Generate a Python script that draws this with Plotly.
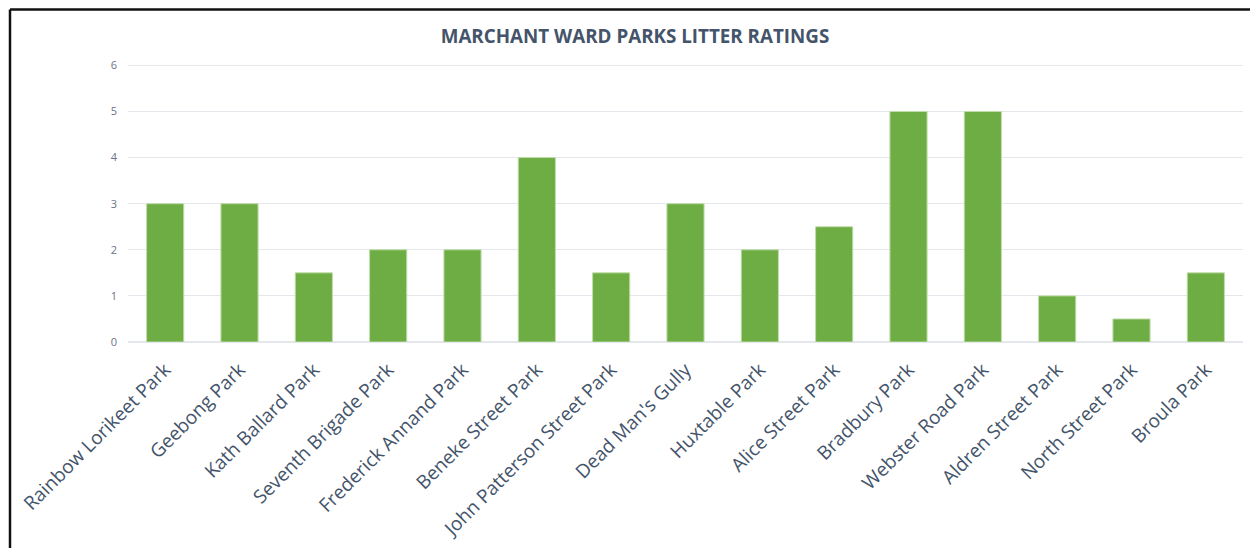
import plotly.graph_objects as go

# Park litter ratings for Marchant Ward
parks = [
    "Rainbow Lorikeet Park", "Geebong Park", "Kath Ballard Park",
    "Seventh Brigade Park", "Frederick Annand Park", "Beneke Street Park",
    "John Patterson Street Park", "Dead Man's Gully", "Huxtable Park",
    "Alice Street Park", "Bradbury Park", "Webster Road Park",
    "Aldren Street Park", "North Street Park", "Broula Park",
]
ratings = [3, 3, 1.5, 2, 2, 4, 1.5, 3, 2, 2.5, 5, 5, 1, 0.5, 1.5]
y_ticks = [0, 1, 2, 3, 4, 5, 6]

W, H = 1250, 548
M_L, M_R, M_T, M_B = 128, 7, 64, 206

fig = go.Figure(
    go.Bar(
        x=parks,
        y=ratings,
        marker=dict(color="#6EAC44", line=dict(color="#BFDDA9", width=1)),
        hoverinfo="x+y",
    )
)

# thin dark frame around the chart area (left and top edges visible)
pw, ph = W - M_L - M_R, H - M_T - M_B
x0 = (10 - M_L) / pw
y1 = 1 + (M_T - 9.5) / ph
fig.add_shape(type="line", xref="paper", yref="paper",
              x0=x0, x1=x0, y0=-2, y1=y1,
              line=dict(color="#111111", width=2.5))
fig.add_shape(type="line", xref="paper", yref="paper",
              x0=x0, x1=2, y0=y1, y1=y1,
              line=dict(color="#111111", width=2.5))

fig.update_layout(
    width=W, height=H,
    margin=dict(l=M_L, r=M_R, t=M_T, b=M_B),
    paper_bgcolor="white", plot_bgcolor="white",
    bargap=0.5,
    showlegend=False,
    title=dict(
        text="<b>MARCHANT WARD PARKS LITTER RATINGS</b>",
        x=0.508, xanchor="center", y=1 - 36 / H, yanchor="middle",
        font=dict(family="Open Sans", size=18.8, color="#44546A"),
    ),
    xaxis=dict(
        tickangle=-45,
        tickfont=dict(family="Open Sans", size=19, color="#44546A"),
        showgrid=False, showline=False, ticks="", ticklabelstandoff=12,
    ),
    yaxis=dict(
        range=[0, 6.03], tickvals=y_ticks,
        tickfont=dict(family="Open Sans", size=11, color="#6B7384"),
        gridcolor="#E4E7EC", gridwidth=1,
        zeroline=True, zerolinecolor="#E4E7EC", zerolinewidth=1.5,
        showline=False, ticks="", ticklabelstandoff=10,
    ),
)

fig.write_html("out.html")
